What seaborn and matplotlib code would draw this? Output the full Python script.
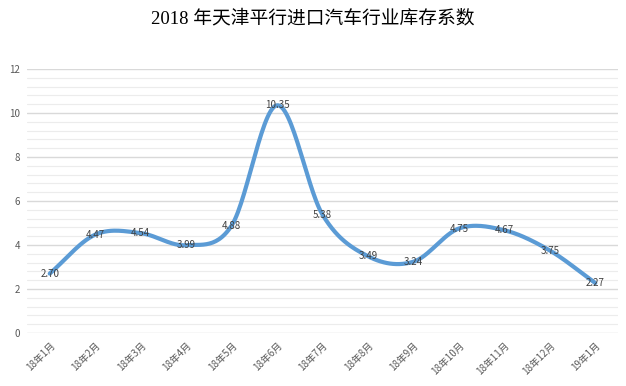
import numpy as np
import pandas as pd
import matplotlib
matplotlib.use("Agg")
import matplotlib.pyplot as plt
import seaborn as sns

months = ["18年1月", "18年2月", "18年3月", "18年4月", "18年5月", "18年6月", "18年7月",
          "18年8月", "18年9月", "18年10月", "18年11月", "18年12月", "19年1月"]
values = [2.70, 4.47, 4.54, 3.99, 4.88, 10.35, 5.38, 3.49, 3.24, 4.75, 4.67, 3.75, 2.27]
yticks = [0, 2, 4, 6, 8, 10, 12]
title = "2018 年天津平行进口汽车行业库存系数"

sns.set_theme(style="white")
plt.rcParams['font.family'] = ['Noto Sans CJK SC', 'DejaVu Sans']

fig = plt.figure(figsize=(6.26, 3.86), dpi=100)
ax = fig.add_axes([27/626, 53/386, 591/626, 264/386])

# Smooth curve (Catmull-Rom style, like spreadsheet "smoothed line")
x = np.arange(len(values), dtype=float)
y = np.array(values, dtype=float)
px = np.concatenate([[2*x[0]-x[1]], x, [2*x[-1]-x[-2]]])
py = np.concatenate([[2*y[0]-y[1]], y, [2*y[-1]-y[-2]]])
sx, sy = [], []
t = np.linspace(0, 1, 30)
for i in range(1, len(px)-2):
    p0, p1, p2, p3 = (np.array([px[j], py[j]]) for j in range(i-1, i+3))
    tau = 0.5
    m1 = tau*(p2-p0)
    m2 = tau*(p3-p1)
    h00 = 2*t**3 - 3*t**2 + 1
    h10 = t**3 - 2*t**2 + t
    h01 = -2*t**3 + 3*t**2
    h11 = t**3 - t**2
    pts = np.outer(h00, p1) + np.outer(h10, m1) + np.outer(h01, p2) + np.outer(h11, m2)
    sx.extend(pts[:, 0]); sy.extend(pts[:, 1])
df = pd.DataFrame({"x": sx, "y": sy})

# grid: major every 2, minor every 0.4
for v in np.arange(0, 12.01, 0.4):
    is_major = abs(v/2 - round(v/2)) < 1e-6
    ax.axhline(v, color="#d9d9d9" if is_major else "#ececec", lw=1.0 if is_major else 0.8, zorder=0)

sns.lineplot(data=df, x="x", y="y", ax=ax, color="#5b9bd5", linewidth=3.0, sort=False,
             estimator=None, solid_capstyle="round", zorder=3)

for xi, v in zip(x, values):
    ax.text(xi, v, f"{v:.2f}", ha="center", va="center", fontsize=7, color="#404040", zorder=4)

ax.set_xlim(-0.5, len(values)-0.5)
ax.set_ylim(0, 12)
ax.set_yticks(yticks)
ax.set_yticklabels([str(v) for v in yticks], fontsize=7, color="#595959")
ax.set_xticks(x)
ax.set_xticklabels(months, fontsize=7, color="#595959", rotation=45, ha="right", rotation_mode="anchor")
ax.tick_params(axis="both", length=0, pad=5)
ax.set_xlabel(""); ax.set_ylabel("")
for s in ax.spines.values():
    s.set_visible(False)

fig.text(0.5, 1 - 19/386, title, ha="center", va="center", fontsize=13.5, color="#000000",
         family=['Liberation Serif', 'Noto Sans CJK SC'])

fig.savefig("out.png", dpi=100, facecolor="white")
